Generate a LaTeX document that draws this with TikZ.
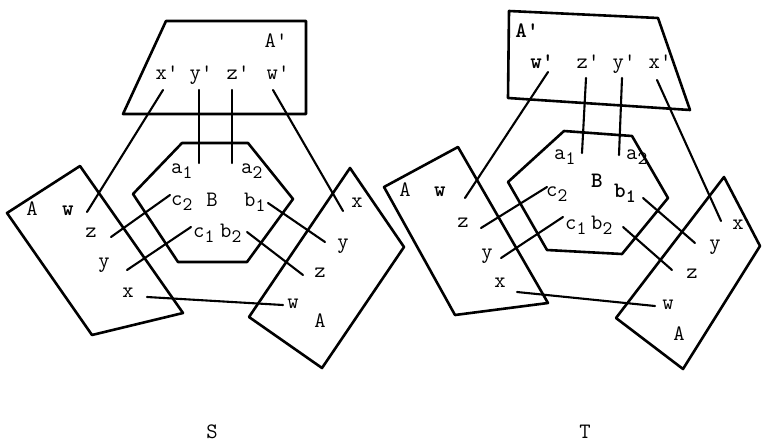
\documentclass[tikz,border=0pt]{standalone}
\usepackage{fontspec}
\newcommand{\mysb}[2]{#1\raisebox{-0.55ex}{\fontsize{19}{19}\selectfont #2}}
\newcommand{\myq}{\textquotesingle}
\begin{document}
\begin{tikzpicture}[x=1pt,y=-1pt,
  shp/.style={line width=2.6pt, line join=round, line cap=round},
  con/.style={line width=2.1pt, line cap=round},
  lbl/.style={inner sep=0pt, anchor=mid, font=\ttfamily\fontsize{22}{22}\selectfont},
  lbw/.style={inner sep=0pt, anchor=mid west, font=\ttfamily\fontsize{22}{22}\selectfont}]
\useasboundingbox (0,0) rectangle (762,444);

% ================= S =================
\draw[shp] (166,21) -- (306,21) -- (306,114) -- (123,114) -- cycle;
\draw[shp] (182,143) -- (248,143) -- (293,199) -- (247,262) -- (178,262) -- (133,194) -- cycle;
\draw[shp] (80,166) -- (183,313) -- (92,335) -- (7,213) -- cycle;
\draw[shp] (350,168) -- (404,247) -- (322,368) -- (249,317) -- cycle;

\node[lbl] (SAp) at (276,45) {A\myq};
\node[lbl] (Sxp) at (167,77) {x\myq};
\node[lbl] (Syp) at (201,77) {y\myq};
\node[lbl] (Szp) at (238,77) {z\myq};
\node[lbl] (Swp) at (278,77) {w\myq};

\node[lbw] (Sa1) at (171,171) {\mysb{a}{1}};
\node[lbw] (Sa2) at (241,171) {\mysb{a}{2}};
\node[lbl] (SB) at (212,204) {B};
\node[lbw] (Sc2) at (171,203) {\mysb{c}{2}};
\node[lbw] (Sb1) at (244,204) {\mysb{b}{1}};
\node[lbw] (Sc1) at (193,235) {\mysb{c}{1}};
\node[lbw] (Sb2) at (220,235) {\mysb{b}{2}};

\node[lbl] (SLA) at (32,213) {A};
\node[lbl] (SLw) at (68,213) {\bfseries w};
\node[lbl] (SLz) at (91,235) {z};
\node[lbl] (SLy) at (104,265) {y};
\node[lbl] (SLx) at (128,295) {x};

\node[lbl] (SRx) at (357,205) {x};
\node[lbl] (SRy) at (343,246) {y};
\node[lbl] (SRz) at (320,275) {z};
\node[lbl] (SRw) at (293,306) {w};
\node[lbl] (SRA) at (320,325) {A};

\coordinate (s1a) at (163,90);  \coordinate (s1b) at (87,212);
\coordinate (s2a) at (199,90);  \coordinate (s2b) at (199,163);
\coordinate (s3a) at (232,90);  \coordinate (s3b) at (232,163);
\coordinate (s4a) at (273,90);  \coordinate (s4b) at (343,211);
\coordinate (s5a) at (170,195); \coordinate (s5b) at (111,237);
\coordinate (s6a) at (191,227); \coordinate (s6b) at (127,270);
\coordinate (s7a) at (268,203); \coordinate (s7b) at (325,242);
\coordinate (s8a) at (247,232); \coordinate (s8b) at (303,275);
\coordinate (s9a) at (147,297); \coordinate (s9b) at (283,305);
\foreach \i in {1,...,9} \draw[con] (s\i a) -- (s\i b);

\node[lbl] (S) at (212,436) {S};

% ================= T =================
\draw[shp] (509,11) -- (658,18) -- (690,110) -- (508,98) -- cycle;
\draw[shp] (564,131) -- (632,136) -- (668,198) -- (622,254) -- (547,250) -- (508,182) -- cycle;
\draw[shp] (458,147) -- (548,303) -- (455,315) -- (384,187) -- cycle;
\draw[shp] (724,177) -- (760,246) -- (683,369) -- (616,318) -- cycle;

\node[lbl] (TAp) at (527,35) {\bfseries A\myq};
\node[lbl] (Twp) at (542,66) {\bfseries w\myq};
\node[lbl] (Tzp) at (588,66) {z\myq};
\node[lbl] (Typ) at (624,66) {y\myq};
\node[lbl] (Txp) at (660,66) {x\myq};

\node[lbw] (Ta1) at (554,157) {\mysb{a}{1}};
\node[lbw] (Ta2) at (626,157) {\mysb{a}{2}};
\node[lbl] (TB) at (597,185) {\bfseries B};
\node[lbw] (Tc2) at (546,194) {\mysb{c}{2}};
\node[lbw] (Tb1) at (614,195) {\mysb{\bfseries b}{1}};
\node[lbw] (Tc1) at (565,227) {\mysb{c}{1}};
\node[lbw] (Tb2) at (591,227) {\mysb{b}{2}};

\node[lbl] (TLA) at (405,194) {A};
\node[lbl] (TLw) at (440,194) {\bfseries w};
\node[lbl] (TLz) at (463,225) {z};
\node[lbl] (TLy) at (487,256) {y};
\node[lbl] (TLx) at (500,285) {x};

\node[lbl] (TRx) at (738,227) {x};
\node[lbl] (TRy) at (715,247) {y};
\node[lbl] (TRz) at (692,276) {z};
\node[lbl] (TRw) at (668,307) {w};
\node[lbl] (TRA) at (679,338) {A};

\coordinate (t1a) at (548,72);  \coordinate (t1b) at (465,198);
\coordinate (t2a) at (586,78);  \coordinate (t2b) at (582,153);
\coordinate (t3a) at (622,78);  \coordinate (t3b) at (619,155);
\coordinate (t4a) at (657,80);  \coordinate (t4b) at (721,221);
\coordinate (t5a) at (547,187); \coordinate (t5b) at (481,228);
\coordinate (t6a) at (563,217); \coordinate (t6b) at (501,258);
\coordinate (t7a) at (643,198); \coordinate (t7b) at (695,243);
\coordinate (t8a) at (623,227); \coordinate (t8b) at (672,270);
\coordinate (t9a) at (517,292); \coordinate (t9b) at (655,306);
\foreach \i in {1,...,9} \draw[con] (t\i a) -- (t\i b);

\node[lbl] (T) at (585,436) {T};
\end{tikzpicture}
\end{document}
